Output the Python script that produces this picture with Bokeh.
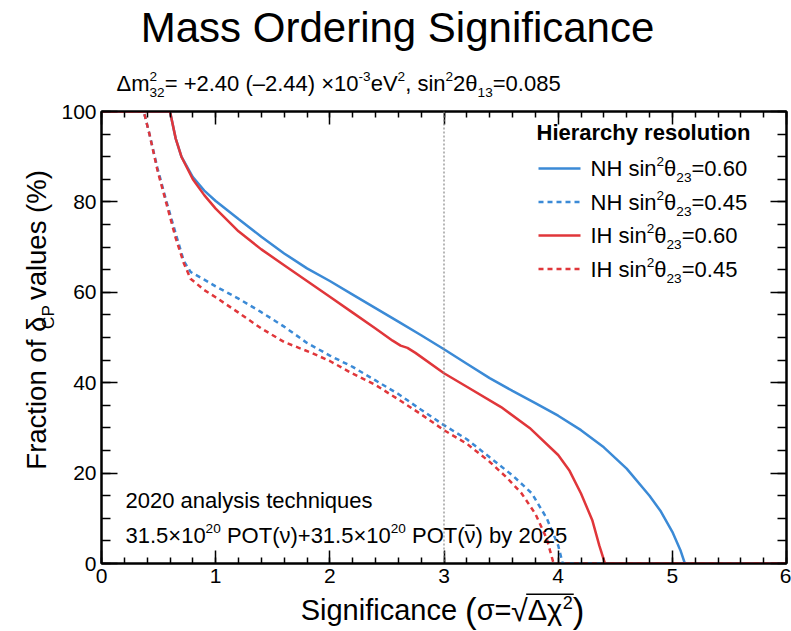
import math
from bokeh.plotting import figure
from bokeh.layouts import column, row
from bokeh.models import Label, Span, LinearAxis, SingleIntervalTicker, Range1d, BoxAnnotation
from bokeh.embed import file_html
from bokeh.resources import INLINE

# Significance (sigma = sqrt(delta chi^2)) and fraction of delta_CP values (%)
sig_nh_060 = [0.0, 0.60, 0.65, 0.70, 0.80, 0.90, 1.00, 1.20, 1.40, 1.60, 1.80, 2.00, 2.20, 2.40, 2.60,
              2.80, 3.00, 3.20, 3.40, 3.60, 3.80, 4.00, 4.20, 4.40, 4.60, 4.80, 4.90, 5.00, 5.07, 5.11, 6.0]
frac_nh_060 = [100, 100, 94, 90, 85.5, 82.5, 80.2, 76.2, 72.3, 68.6, 65.3, 62.5, 59.5, 56.5, 53.5,
               50.5, 47.4, 44.2, 41, 38.2, 35.5, 32.7, 29.5, 25.7, 21, 15, 11.5, 7, 3, 0, 0]

sig_nh_045 = [0.0, 0.37, 0.42, 0.49, 0.57, 0.65, 0.72, 0.78, 0.90, 1.00, 1.20, 1.40, 1.60, 1.80,
              2.00, 2.20, 2.40, 2.60, 2.80, 3.00, 3.20, 3.40, 3.60, 3.77, 3.90, 4.00, 4.04, 6.0]
frac_nh_045 = [100, 100, 95, 87.5, 80, 73, 67, 64.5, 62.8, 61.3, 58.6, 55.6, 52.4, 48.8,
               46, 43.5, 40.5, 37.5, 34, 30.6, 27.5, 23.5, 19.5, 15.5, 10, 4, 0, 0]

sig_ih_060 = [0.0, 0.60, 0.65, 0.70, 0.80, 0.90, 1.00, 1.20, 1.40, 1.60, 1.80, 2.00, 2.20, 2.40,
              2.55, 2.62, 2.68, 2.75, 3.00, 3.20, 3.50, 3.75, 4.00, 4.10, 4.20, 4.30, 4.36, 4.41, 6.0]
frac_ih_060 = [100, 100, 94, 90, 85, 81.5, 78.5, 73.5, 69.5, 66, 62.5, 59, 55.5, 52,
               49.3, 48.2, 47.7, 46.6, 42.1, 39.1, 34.6, 30, 24, 20.5, 15.5, 9.5, 4, 0, 0]

sig_ih_045 = [0.0, 0.37, 0.42, 0.49, 0.57, 0.65, 0.72, 0.78, 0.90, 1.00, 1.20, 1.40, 1.60, 1.75,
              1.85, 2.00, 2.20, 2.40, 2.60, 2.80, 3.00, 3.20, 3.40, 3.55, 3.68, 3.80, 3.90, 3.96, 6.0]
frac_ih_045 = [100, 100, 95, 87, 79.5, 72, 66.5, 63, 60.5, 58.9, 55.5, 52, 49, 47.5,
               46.5, 44.8, 42, 39.5, 36.3, 33, 29.5, 26.5, 22.5, 19, 15.5, 11, 5.5, 0, 0]

threshold_sigma = 3

BLUE = "#3b8ad6"
RED = "#e0363a"
FONT = "Liberation Sans"

# canvas geometry: main frame edges in window pixels
FL, FR, FT, FB = 101, 786, 111, 563
XMAX, YMAX = 6.0, 100.0
TOP_H, LEFT_W, BOTTOM_H = 100, 58, 40
MID_H = 631 - TOP_H - BOTTOM_H

# the label anchor sits at the middle of the capitals; shift from the baseline (em)
MID = 0.36


def main_map(px, py):
    return ((px - FL) / (FR - FL) * XMAX, (FB - py) / (FB - FT) * YMAX)


def pixel_map(px, py):
    return (px, py)


# Arial-compatible advance widths (per 1000 em)
W = {" ": 278, "(": 333, ")": 333, "+": 584, ",": 278, "-": 333, ".": 278, "=": 584, "%": 889,
     "A": 667, "C": 722, "H": 722, "I": 278, "M": 833, "N": 722, "O": 778, "P": 667, "S": 667,
     "T": 611, "V": 667, "F": 611,
     "a": 556, "b": 556, "c": 500, "d": 556, "e": 556, "f": 278, "g": 556, "h": 556, "i": 222,
     "l": 222, "m": 833, "n": 556, "o": 556, "p": 556, "q": 556, "r": 333, "s": 500, "t": 278,
     "u": 556, "v": 500, "y": 500, "×": 584, "–": 556, "Δ": 668, "θ": 556, "δ": 556, "σ": 600,
     "χ": 540, "ν": 500, "√": 549}
WB = {"H": 722, "i": 278, "e": 556, "r": 389, "a": 556, "c": 556, "h": 611, "y": 556, " ": 278,
      "s": 556, "o": 611, "l": 278, "u": 611, "t": 333, "n": 611}


def tw(s, size, bold=False):
    table = WB if bold else W
    return sum(table.get(ch, W.get(ch, 556)) for ch in s) * size / 1000.0


def write(fig, conv, pieces, x, base, size, align="left", bold=False, vertical=False):
    """Lay out text pieces (text, scale, rise_em, advance) along a baseline given in pixels."""
    total = sum(tw(t, size * sc, bold) for t, sc, r, adv in pieces if adv)
    if align == "center":
        x -= total / 2.0
    spans = []
    s = 0.0
    for t, sc, rise, adv in pieces:
        fs = size * sc
        w = tw(t, fs, bold)
        body = t.lstrip(" ")
        lead = tw(t[:len(t) - len(body)], fs, bold)
        lift = rise * size + MID * fs
        if vertical:
            px, py = x - lift, base - s - lead
        else:
            px, py = x + s + lead, base - lift
        lx, ly = conv(px, py)
        fig.add_layout(Label(x=lx, y=ly, text=body, text_font=FONT,
                             text_font_size=f"{fs:.1f}px", text_color="black",
                             text_font_style="bold" if bold else "normal",
                             text_align="left", text_baseline="alphabetic",
                             angle=math.pi / 2 if vertical else 0.0))
        spans.append((x + s + lead, x + s + w))
        if adv:
            s += w
    return spans


def strip(x0, y0, w, h):
    f = figure(width=w, height=h, output_backend="svg", toolbar_location=None,
               x_range=Range1d(x0, x0 + w), y_range=Range1d(y0 + h, y0),
               x_axis_type=None, y_axis_type=None, min_border=0)
    f.outline_line_color = None
    f.background_fill_color = "white"
    f.border_fill_color = "white"
    return f


# ---- main plot ----
p = figure(width=791 - LEFT_W, height=MID_H, output_backend="svg", toolbar_location=None,
           x_range=Range1d(0, XMAX), y_range=Range1d(0, YMAX),
           x_axis_type=None, y_axis_type=None,
           min_border_left=FL - LEFT_W, min_border_right=791 - FR,
           min_border_top=FT - TOP_H, min_border_bottom=TOP_H + MID_H - FB)
p.background_fill_color = "white"
p.border_fill_color = "white"
p.outline_line_color = "black"
p.outline_line_width = 2


def make_axis(interval, minor, major_len, minor_len, labels, top):
    ax = LinearAxis(ticker=SingleIntervalTicker(interval=interval, num_minor_ticks=minor))
    ax.axis_line_color = "black"
    ax.axis_line_width = 2
    ax.major_tick_line_width = 1.5
    ax.minor_tick_line_width = 1.5
    ax.major_tick_in = major_len
    ax.major_tick_out = 0
    ax.minor_tick_in = minor_len
    ax.minor_tick_out = 0
    if labels:
        ax.major_label_text_font = FONT
        ax.major_label_text_font_size = "21px"
        ax.major_label_text_color = "black"
        ax.major_label_standoff = 5
    else:
        ax.major_label_overrides = {v: "" for v in range(0, int(top) + 1, interval)}
        ax.major_label_text_font_size = "1px"
        ax.major_label_standoff = 0
    return ax


p.add_layout(make_axis(1, 5, 13, 6, True, XMAX), "below")
p.add_layout(make_axis(20, 4, 16, 9, True, YMAX), "left")
p.add_layout(make_axis(1, 5, 13, 6, False, XMAX), "above")
p.add_layout(make_axis(20, 4, 16, 9, False, YMAX), "right")

# 3 sigma reference line
p.add_layout(Span(location=threshold_sigma, dimension="height", line_color="#888888",
                  line_width=1.2, line_dash="2 2"))

p.line(sig_nh_060, frac_nh_060, line_color=BLUE, line_width=2.5)
p.line(sig_nh_045, frac_nh_045, line_color=BLUE, line_width=2.5, line_dash="5 4")
p.line(sig_ih_060, frac_ih_060, line_color=RED, line_width=2.5)
p.line(sig_ih_045, frac_ih_045, line_color=RED, line_width=2.5, line_dash="5 4")

SUP, SUB = 0.45, -0.28

# legend
write(p, main_map, [("Hierarchy resolution", 1, 0, True)], 536, 140, 22, bold=True)
entries = [("NH", "0.60", BLUE, "solid"), ("NH", "0.45", BLUE, "5 4"),
           ("IH", "0.60", RED, "solid"), ("IH", "0.45", RED, "5 4")]
for i, (hier, s23, col, dash) in enumerate(entries):
    yc = 168 + i * 33.5
    (xa, ya), (xb, yb) = main_map(538, yc), main_map(580, yc)
    p.line([xa, xb], [ya, yb], line_color=col, line_width=2.5, line_dash=dash)
    write(p, main_map, [(hier + " sin", 1, 0, True), ("2", .62, SUP, True), ("θ", 1, 0, True),
                        ("23", .62, SUB, True), ("=" + s23, 1, 0, True)], 590, yc + 8, 22)

# exposure notes
write(p, main_map, [("2020 analysis techniques", 1, 0, True)], 125, 508, 22)
sp = write(p, main_map, [("31.5×10", 1, 0, True), ("20", .62, SUP, True),
                         (" POT(ν)+31.5×10", 1, 0, True), ("20", .62, SUP, True),
                         (" POT(", 1, 0, True), ("ν", 1, 0, True), (") by 2025", 1, 0, True)],
           125, 543, 22)
nu0, nu1 = sp[5]
(bl, bt), (br, bb) = main_map(nu0 + 1, 524), main_map(nu1 - 1, 525.5)
p.add_layout(BoxAnnotation(left=bl, right=br, top=bt, bottom=bb,
                           fill_color="black", fill_alpha=1, line_color=None))

# ---- title strip ----
top = strip(0, 0, 791, TOP_H)
write(top, pixel_map, [("Mass Ordering Significance", 1, 0, True)], 397, 42, 42, align="center")
write(top, pixel_map,
      [("Δm", 1, 0, True), ("2", .62, SUP, False), ("32", .62, SUB, True),
       ("= +2.40 (–2.44) ×10", 1, 0, True), ("-3", .62, SUP, True), ("eV", 1, 0, True),
       ("2", .62, SUP, True), (", sin", 1, 0, True), ("2", .62, SUP, True), ("2θ", 1, 0, True),
       ("13", .62, SUB, True), ("=0.085", 1, 0, True)], 116, 90.5, 22)

# ---- y-axis title strip ----
left = strip(0, TOP_H, LEFT_W, MID_H)
ylab = [("Fraction of δ", 1, 0, True), ("CP", .62, SUB, True), (" values (%)", 1, 0, True)]
ysize = 27.5
ylen = sum(tw(t, ysize * sc) for t, sc, r, a in ylab)
write(left, pixel_map, ylab, 46, 332 + ylen / 2, ysize, vertical=True)

# ---- x-axis title strip ----
bottom = strip(0, TOP_H + MID_H, 791, BOTTOM_H)
sx = write(bottom, pixel_map,
           [("Significance ", 1, 0, True), ("(", 1.2, -0.1, True), ("σ=", 1, 0, True),
            ("√", 1.05, 0, True), ("Δχ", 1, 0, True), ("2", .62, 0.4, True),
            (")", 1.2, -0.1, True)], 442, 620, 29, align="center")
r0, r1 = sx[3][1], sx[5][1]
bottom.add_layout(BoxAnnotation(left=r0 - 1.5, right=r1 + 1, top=593, bottom=594.5,
                                fill_color="black", fill_alpha=1, line_color=None))

layout = column(top, row(left, p), bottom)
open("out.html", "w").write(file_html(layout, INLINE))
